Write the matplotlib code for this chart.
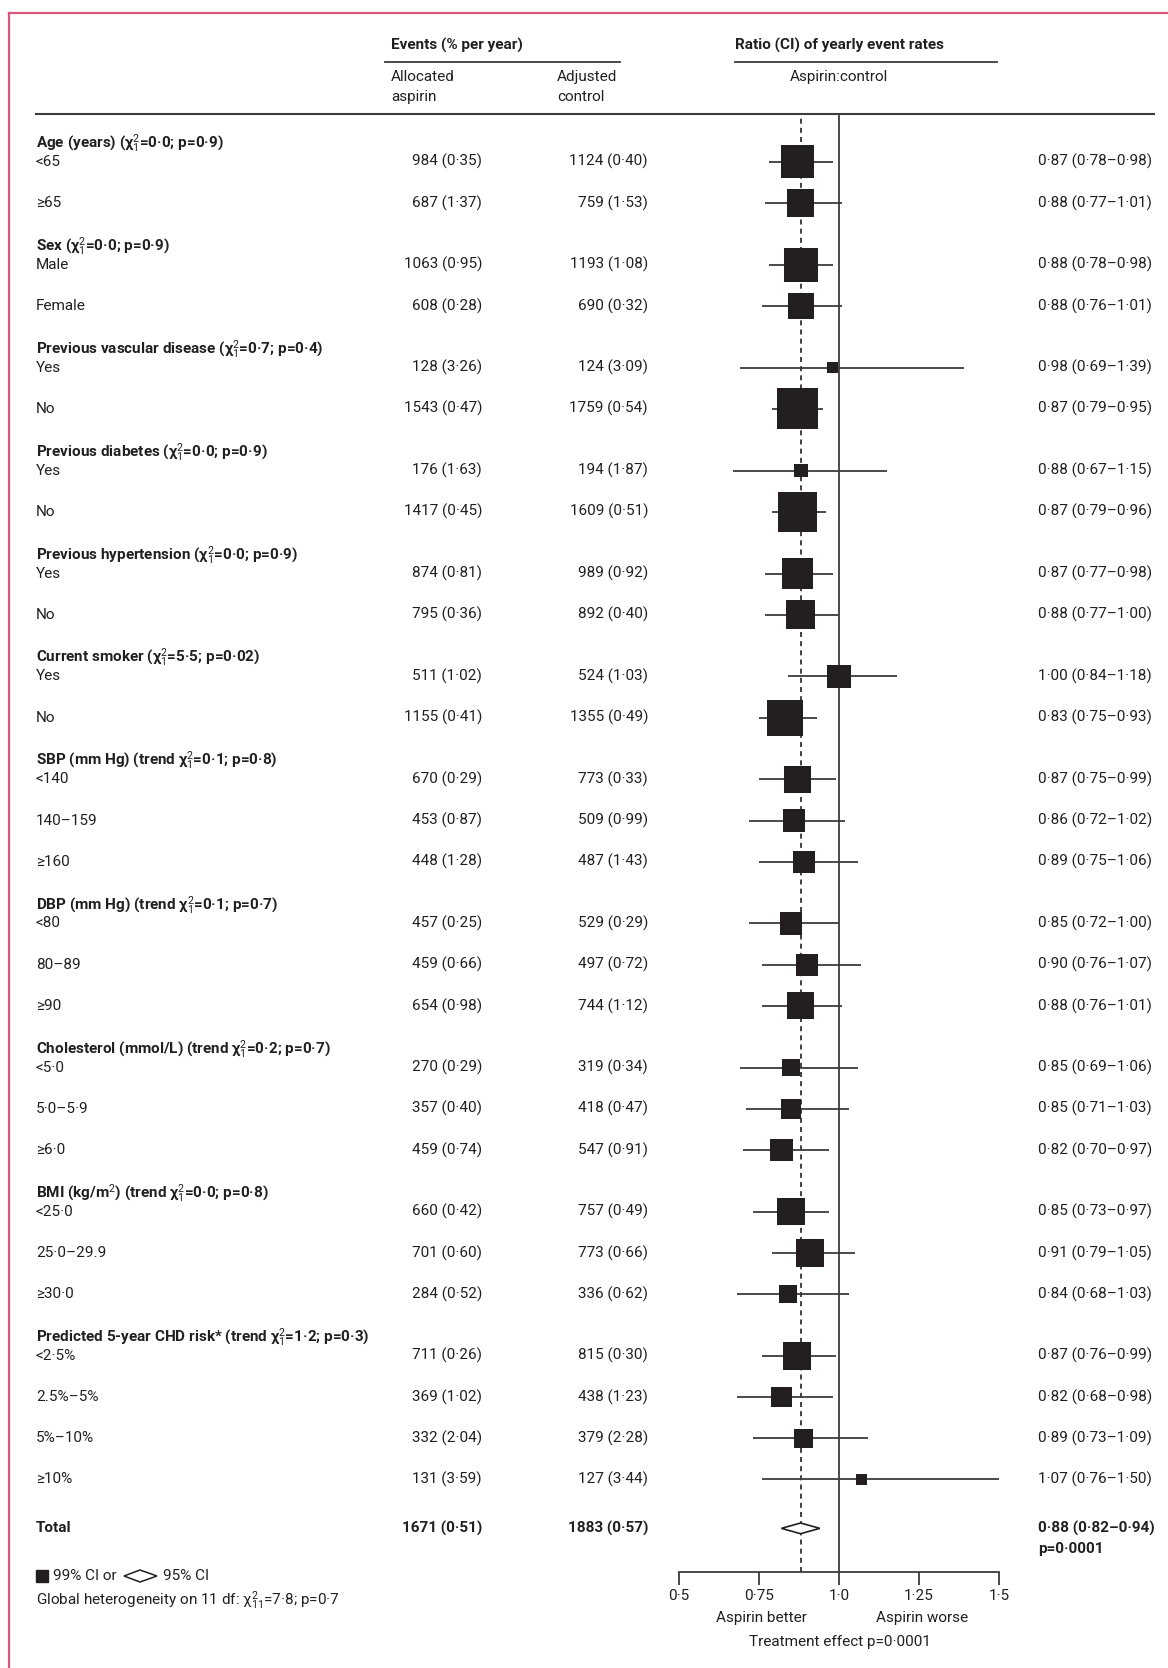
import numpy as np
import matplotlib.pyplot as plt
import matplotlib.transforms as mtransforms
from matplotlib.patches import Polygon
from matplotlib.lines import Line2D

FAM = ['Roboto', 'DejaVu Sans']
plt.rcParams['font.family'] = FAM
plt.rcParams['mathtext.fontset'] = 'custom'
plt.rcParams['mathtext.rm'] = FAM[0]
plt.rcParams['mathtext.it'] = FAM[0] + ':italic'
plt.rcParams['mathtext.bf'] = FAM[0] + ':bold'

# ---- data ----
groups = ['Age (years)', 'Sex', 'Previous vascular disease', 'Previous diabetes',
          'Previous hypertension', 'Current smoker', 'SBP (mm Hg)', 'DBP (mm Hg)',
          'Cholesterol (mmol/L)', 'BMI (kg/m$^2$)', 'Predicted 5-year CHD risk*']
group_tests = ['(χ$^2_1$=0·0; p=0·9)', '(χ$^2_1$=0·0; p=0·9)', '(χ$^2_1$=0·7; p=0·4)',
               '(χ$^2_1$=0·0; p=0·9)', '(χ$^2_1$=0·0; p=0·9)', '(χ$^2_1$=5·5; p=0·02)',
               '(trend χ$^2_1$=0·1; p=0·8)', '(trend χ$^2_1$=0·1; p=0·7)',
               '(trend χ$^2_1$=0·2; p=0·7)', '(trend χ$^2_1$=0·0; p=0·8)',
               '(trend χ$^2_1$=1·2; p=0·3)']
subgroups = [['<65', '≥65'], ['Male', 'Female'], ['Yes', 'No'], ['Yes', 'No'],
             ['Yes', 'No'], ['Yes', 'No'], ['<140', '140–159', '≥160'],
             ['<80', '80–89', '≥90'], ['<5·0', '5·0–5·9', '≥6·0'],
             ['<25·0', '25·0–29.9', '≥30·0'], ['<2·5%', '2.5%–5%', '5%–10%', '≥10%']]

asp_events = [984, 687, 1063, 608, 128, 1543, 176, 1417, 874, 795, 511, 1155, 670, 453,
              448, 457, 459, 654, 270, 357, 459, 660, 701, 284, 711, 369, 332, 131]
asp_rates = [0.35, 1.37, 0.95, 0.28, 3.26, 0.47, 1.63, 0.45, 0.81, 0.36, 1.02, 0.41, 0.29,
             0.87, 1.28, 0.25, 0.66, 0.98, 0.29, 0.40, 0.74, 0.42, 0.60, 0.52, 0.26,
             1.02, 2.04, 3.59]
ctl_events = [1124, 759, 1193, 690, 124, 1759, 194, 1609, 989, 892, 524, 1355, 773, 509,
              487, 529, 497, 744, 319, 418, 547, 757, 773, 336, 815, 438, 379, 127]
ctl_rates = [0.40, 1.53, 1.08, 0.32, 3.09, 0.54, 1.87, 0.51, 0.92, 0.40, 1.03, 0.49, 0.33,
             0.99, 1.43, 0.29, 0.72, 1.12, 0.34, 0.47, 0.91, 0.49, 0.66, 0.62, 0.30,
             1.23, 2.28, 3.44]
ratio = [0.87, 0.88, 0.88, 0.88, 0.98, 0.87, 0.88, 0.87, 0.87, 0.88, 1.00, 0.83, 0.87,
         0.86, 0.89, 0.85, 0.90, 0.88, 0.85, 0.85, 0.82, 0.85, 0.91, 0.84, 0.87, 0.82,
         0.89, 1.07]
ci_low = [0.78, 0.77, 0.78, 0.76, 0.69, 0.79, 0.67, 0.79, 0.77, 0.77, 0.84, 0.75, 0.75,
          0.72, 0.75, 0.72, 0.76, 0.76, 0.69, 0.71, 0.70, 0.73, 0.79, 0.68, 0.76, 0.68,
          0.73, 0.76]
ci_high = [0.98, 1.01, 0.98, 1.01, 1.39, 0.95, 1.15, 0.96, 0.98, 1.00, 1.18, 0.93, 0.99,
           1.02, 1.06, 1.00, 1.07, 1.01, 1.06, 1.03, 0.97, 0.97, 1.05, 1.03, 0.99, 0.98,
           1.09, 1.50]

total_asp = (1671, 0.51)
total_ctl = (1883, 0.57)
total_ratio, total_low, total_high = 0.88, 0.82, 0.94

xticks = [0.5, 0.75, 1.0, 1.25, 1.5]
xtick_labels = ['0·5', '0·75', '1·0', '1·25', '1·5']


def d(v, n=2):
    return f'{v:.{n}f}'.replace('.', '·')


# ---- layout ----
W, H = 1168, 1668
fig = plt.figure(figsize=(W / 100, H / 100), dpi=100)


def fx(px):
    return px / W


def fy(py):
    return 1 - py / H


ax_top, ax_bot = 114, 1572
ax = fig.add_axes([fx(679), fy(ax_bot), fx(999) - fx(679), (ax_bot - ax_top) / H])
ax.set_xlim(0.5, 1.5)
ax.set_ylim(34.25, -1.16)

FS = 11
INK = '#231f20'
LINE = '#3c3c3c'

# row positions
ypos, yhead = [], []
r = 0
for gi, subs in enumerate(subgroups):
    first = r + gi * 0.5
    yhead.append(first - 0.46)
    for j in range(len(subs)):
        ypos.append(first + j)
    r += len(subs)
ypos = np.array(ypos)
y_total = ypos[-1] + 1.19

# reference lines
ax.axvline(1.0, color=LINE, lw=1.3, zorder=1)
ax.axvline(total_ratio, color=INK, lw=1.2, ls=(0, (3, 2.5)), zorder=1)

# whiskers and boxes
ax.hlines(ypos, ci_low, ci_high, color=LINE, lw=1.3, zorder=2, clip_on=False)
sizes = 0.2687 * (np.array(asp_events) + np.array(ctl_events))
ax.scatter(ratio, ypos, s=sizes, marker='s', color=INK, linewidths=0, zorder=3,
           clip_on=False)

# total diamond
dh = 0.13
ax.add_patch(Polygon([(total_low, y_total), (total_ratio, y_total - dh),
                      (total_high, y_total), (total_ratio, y_total + dh)],
                     closed=True, facecolor='white', edgecolor=INK, lw=1.2, zorder=4))

# axis styling
for s in ['top', 'left', 'right']:
    ax.spines[s].set_visible(False)
ax.spines['bottom'].set_color(LINE)
ax.spines['bottom'].set_linewidth(1.3)
ax.set_yticks([])
ax.set_xticks(xticks)
ax.set_xticklabels(xtick_labels)
ax.tick_params(axis='x', direction='out', length=9, width=1.3, color=LINE,
               labelsize=FS, labelcolor=INK, pad=3)
ax.patch.set_visible(False)

# ---- table text ----
tr = mtransforms.blended_transform_factory(fig.transFigure, ax.transData)
k = 0
for gi, subs in enumerate(subgroups):
    fig.text(fx(36), yhead[gi], groups[gi] + ' ' + group_tests[gi], transform=tr,
             fontsize=FS, fontweight='bold', va='center', color=INK)
    for lab in subs:
        y = ypos[k]
        fig.text(fx(36), y, lab, transform=tr, fontsize=FS, va='center', color=INK)
        fig.text(fx(482), y, f'{asp_events[k]} ({d(asp_rates[k])})', transform=tr,
                 fontsize=FS, va='center', ha='right', color=INK)
        fig.text(fx(648), y, f'{ctl_events[k]} ({d(ctl_rates[k])})', transform=tr,
                 fontsize=FS, va='center', ha='right', color=INK)
        fig.text(fx(1038), y, f'{d(ratio[k])} ({d(ci_low[k])}–{d(ci_high[k])})',
                 transform=tr, fontsize=FS, va='center', color=INK)
        k += 1

bold = dict(transform=tr, fontsize=FS, va='center', fontweight='bold', color=INK)
fig.text(fx(36), y_total, 'Total', **bold)
fig.text(fx(482), y_total, f'{total_asp[0]} ({d(total_asp[1])})', ha='right', **bold)
fig.text(fx(648), y_total, f'{total_ctl[0]} ({d(total_ctl[1])})', ha='right', **bold)
fig.text(fx(1038), y_total, f'{d(total_ratio)} ({d(total_low)}–{d(total_high)})', **bold)
fig.text(fx(1038), y_total + 0.49, 'p=0·0001', **bold)

# ---- headers ----
fig.text(fx(391), fy(45), 'Events (% per year)', fontsize=FS, fontweight='bold',
         va='center', color=INK)
fig.text(fx(735), fy(45), 'Ratio (CI) of yearly event rates', fontsize=FS,
         fontweight='bold', va='center', color=INK)
fig.add_artist(Line2D([fx(385), fx(620)], [fy(62), fy(62)], color=LINE, lw=1.3))
fig.add_artist(Line2D([fx(735), fx(997)], [fy(62), fy(62)], color=LINE, lw=1.3))
fig.text(fx(391), fy(87), 'Allocated\naspirin', fontsize=FS, va='center', color=INK,
         linespacing=1.5)
fig.text(fx(557), fy(87), 'Adjusted\ncontrol', fontsize=FS, va='center', color=INK,
         linespacing=1.5)
fig.text(fx(839), fy(77), 'Aspirin:control', fontsize=FS, va='center', ha='center',
         color=INK)
fig.add_artist(Line2D([fx(36), fx(1154)], [fy(114), fy(114)], color=LINE, lw=1.5))

# ---- footer ----
fig.add_artist(Line2D([fx(42)], [fy(1576)], marker='s', markersize=8.5, color=INK, lw=0))
fig.text(fx(53), fy(1576), '99% CI or', fontsize=FS, va='center', color=INK)
fig.add_artist(Polygon([(fx(124), fy(1576)), (fx(140), fy(1570)), (fx(157), fy(1576)),
                        (fx(140), fy(1582))], closed=True, facecolor='white',
                       edgecolor=INK, lw=1.1, transform=fig.transFigure))
fig.text(fx(163), fy(1576), '95% CI', fontsize=FS, va='center', color=INK)
fig.text(fx(36), fy(1600), 'Global heterogeneity on 11 df: χ$^2_{11}$=7·8; p=0·7',
         fontsize=FS, va='center', color=INK)

fig.text(fx(761), fy(1618), 'Aspirin better', fontsize=FS, va='center', ha='center',
         color=INK)
fig.text(fx(922), fy(1618), 'Aspirin worse', fontsize=FS, va='center', ha='center',
         color=INK)
fig.text(fx(840), fy(1642), 'Treatment effect p=0·0001', fontsize=FS, va='center',
         ha='center', color=INK)

# pink frame
PINK = '#d6587a'
fig.add_artist(Line2D([fx(9), fx(1168)], [fy(13), fy(13)], color=PINK, lw=1.6))
fig.add_artist(Line2D([fx(9), fx(9)], [fy(13), fy(1668)], color=PINK, lw=1.6))

fig.savefig('out.png', dpi=100)
